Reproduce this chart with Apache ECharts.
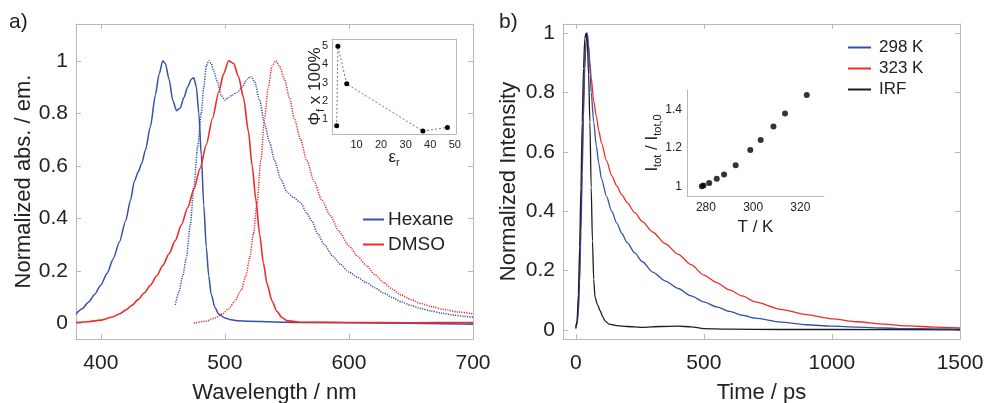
<!DOCTYPE html>
<html><head><meta charset="utf-8">
<script src="https://cdn.jsdelivr.net/npm/echarts@6/dist/echarts.min.js"></script>
<style>html,body{margin:0;padding:0;background:#fff}#c{width:985px;height:403px}</style>
</head><body><div id="c"></div>
<script>
// ---------- Panel a: spectra (wavelength nm, normalized) ----------
const hexaneAbs = [[380,0.035],[385,0.055],[390,0.08],[395,0.11],[400,0.145],[405,0.19],[410,0.245],[415,0.31],[420,0.39],[424,0.47],[427,0.54],[430,0.575],[433,0.61],[436,0.66],[440,0.75],[444,0.87],[447,0.95],[450,1.0],[452,0.99],[455,0.93],[458,0.85],[461,0.81],[464,0.82],[467,0.86],[470,0.9],[473,0.93],[475,0.935],[477,0.9],[479,0.8],[481,0.64],[483,0.45],[485,0.29],[487,0.18],[489,0.11],[492,0.06],[495,0.035],[500,0.02],[505,0.013],[510,0.01],[520,0.008],[540,0.005],[560,0.003],[600,0.002],[650,0.0],[700,-0.004]];
const hexaneEm = [[460,0.07],[463,0.12],[466,0.18],[469,0.25],[472,0.37],[475,0.52],[478,0.67],[481,0.8],[483,0.9],[485,0.98],[487,1.0],[489,0.99],[491,0.96],[494,0.92],[497,0.87],[500,0.85],[503,0.86],[506,0.87],[510,0.88],[514,0.9],[518,0.93],[521,0.94],[524,0.92],[528,0.85],[532,0.76],[536,0.69],[540,0.62],[545,0.55],[550,0.5],[555,0.48],[561,0.46],[566,0.42],[570,0.39],[575,0.34],[580,0.3],[587,0.255],[593,0.225],[600,0.195],[607,0.175],[614,0.155],[621,0.135],[628,0.115],[635,0.098],[642,0.082],[650,0.068],[658,0.056],[666,0.047],[675,0.038],[685,0.031],[693,0.026],[700,0.023]];
const dmsoAbs = [[380,0.003],[390,0.006],[400,0.012],[410,0.025],[415,0.035],[420,0.05],[425,0.068],[430,0.09],[435,0.115],[440,0.145],[445,0.18],[450,0.22],[455,0.265],[460,0.315],[465,0.375],[470,0.44],[475,0.51],[480,0.59],[485,0.68],[490,0.78],[495,0.88],[499,0.95],[503,1.0],[507,0.99],[511,0.94],[515,0.86],[519,0.73],[522,0.6],[525,0.47],[528,0.34],[531,0.23],[534,0.15],[538,0.085],[542,0.045],[546,0.022],[550,0.01],[560,0.004],[600,0.003],[650,0.002],[700,0.003]];
const dmsoEm = [[475,0.0],[485,0.008],[492,0.02],[498,0.035],[503,0.055],[508,0.085],[513,0.125],[517,0.18],[520,0.25],[523,0.34],[526,0.46],[529,0.62],[532,0.78],[535,0.9],[538,0.98],[541,1.0],[544,0.98],[548,0.93],[552,0.86],[556,0.78],[561,0.7],[566,0.62],[572,0.54],[578,0.47],[585,0.41],[592,0.35],[600,0.295],[607,0.255],[614,0.22],[621,0.185],[628,0.155],[635,0.13],[642,0.108],[650,0.09],[658,0.075],[667,0.063],[676,0.053],[688,0.043],[700,0.036]];
const waveTicks = [400,500,600,700];
const normTicks = [0,0.2,0.4,0.6,0.8,1];

// ---------- Inset a: quantum yield vs dielectric constant ----------
const epsR = [1.9,2.4,6.0,37.0,47.0];
const phiF = [0.62,5.0,2.93,0.33,0.53];
const epsTicks = [10,20,30,40,50];
const phiTicks = [1,2,3,4,5];

// ---------- Panel b: decays (time ps, normalized) ----------
const decay298 = [[0,0.01],[5,0.02],[10,0.06],[15,0.16],[20,0.33],[25,0.52],[30,0.72],[35,0.88],[40,0.97],[45,1.0],[50,0.96],[55,0.88],[60,0.8],[70,0.7],[80,0.62],[90,0.56],[100,0.51],[120,0.45],[140,0.4],[160,0.36],[180,0.325],[200,0.295],[230,0.26],[260,0.23],[300,0.195],[350,0.165],[400,0.14],[450,0.115],[500,0.095],[550,0.078],[600,0.063],[650,0.05],[700,0.04],[800,0.027],[900,0.018],[1000,0.013],[1100,0.01],[1200,0.007],[1300,0.005],[1400,0.004],[1500,0.003]];
const decay323 = [[0,0.01],[5,0.03],[10,0.08],[15,0.2],[20,0.38],[25,0.58],[30,0.77],[35,0.9],[40,0.97],[45,0.98],[50,0.95],[55,0.9],[60,0.85],[70,0.77],[80,0.72],[90,0.67],[100,0.63],[120,0.57],[140,0.52],[160,0.485],[180,0.455],[200,0.43],[230,0.395],[260,0.365],[300,0.33],[350,0.29],[400,0.255],[450,0.22],[500,0.185],[550,0.16],[600,0.135],[650,0.115],[700,0.095],[800,0.07],[900,0.052],[1000,0.038],[1100,0.028],[1200,0.02],[1300,0.014],[1400,0.01],[1500,0.007]];
const decayIRF = [[0,0.005],[5,0.03],[10,0.12],[15,0.28],[20,0.48],[25,0.7],[30,0.88],[35,0.98],[40,1.0],[45,0.97],[50,0.86],[55,0.7],[60,0.48],[65,0.3],[70,0.17],[75,0.11],[85,0.085],[95,0.065],[105,0.045],[115,0.03],[130,0.02],[160,0.015],[200,0.012],[260,0.009],[330,0.012],[400,0.013],[450,0.011],[500,0.005],[600,0.003],[800,0.002],[1000,0.002],[1500,0.001]];
const timeTicks = [0,500,1000,1500];

// ---------- Inset b: total intensity vs temperature ----------
const tempK = [278.3,279.0,281.4,284.6,287.7,292.6,298.8,303.2,308.6,313.5,322.7];
const intRatio = [1.0,1.005,1.017,1.04,1.062,1.109,1.189,1.241,1.31,1.378,1.474];
const tempTicks = [280,300,320];
const ratioTicks = [1,1.2,1.4];

const F = '"Liberation Sans", Arial, sans-serif';
const TXT = '#222';
const AX = '#b8b8b8';
const BLUE = '#3550a8';
const RED = '#ee2b2b';
const BLACK = '#1e1e1e';

function axis(dim, o) {
  const ticks = o.ticks;
  const base = {
    type: 'value', gridIndex: o.grid, min: o.min, max: o.max, position: o.pos,
    scale: true,
    axisLine: {show: true, onZero: false, lineStyle: {color: AX, width: 1}},
    axisTick: {show: !!o.tick, inside: true, length: 5, lineStyle: {color: AX}, customValues: ticks},
    axisLabel: o.label ? {show: true, customValues: ticks, color: TXT, fontSize: o.fs, fontFamily: F, margin: o.margin,
      formatter: v => String(+v.toFixed(3))} : {show: false},
    splitLine: {show: false},
    nameMoveOverlap: false
  };
  if (o.name) {
    base.name = o.name; base.nameLocation = 'middle'; base.nameGap = o.nameGap;
    base.nameTextStyle = Object.assign({color: TXT, fontFamily: F, fontSize: o.nfs}, o.nts || {});
  }
  return base;
}

const subRich = (fs, sfs, pad) => ({
  a: {fontSize: fs, fontFamily: F, color: TXT},
  s: {fontSize: sfs, fontFamily: F, color: TXT, padding: [pad, 0, 0, 0]}
});

const xAxes = [
  axis('x', {grid:0, min:380, max:700, pos:'bottom', ticks:waveTicks, tick:true, label:true, fs:21, margin:14, name:'Wavelength / nm', nameGap:43, nfs:22}),
  axis('x', {grid:0, min:380, max:700, pos:'top', ticks:waveTicks, tick:true}),
  axis('x', {grid:1, min:0, max:50.5, pos:'bottom', ticks:epsTicks, label:true, fs:11, margin:5, name:'{a|ε}{s|r}', nameGap:13, nfs:17, nts:{rich: subRich(17, 11, 10)}}),
  axis('x', {grid:1, min:0, max:50.5, pos:'top', ticks:epsTicks}),
  axis('x', {grid:2, min:-50, max:1500, pos:'bottom', ticks:timeTicks, tick:true, label:true, fs:21, margin:14, name:'Time / ps', nameGap:43, nfs:22}),
  axis('x', {grid:2, min:-50, max:1500, pos:'top', ticks:timeTicks, tick:true}),
  axis('x', {grid:3, min:272, max:330, pos:'bottom', ticks:tempTicks, label:true, fs:12, margin:6, name:'T / K', nameGap:23, nfs:17})
];
const yAxes = [
  axis('y', {grid:0, min:-0.06, max:1.14, pos:'left', ticks:normTicks, tick:true, label:true, fs:21, margin:8, name:'Normalized abs. / em.', nameGap:41, nfs:22}),
  axis('y', {grid:0, min:-0.06, max:1.14, pos:'right', ticks:normTicks, tick:true}),
  axis('y', {grid:1, min:0.17, max:5.4, pos:'left', ticks:phiTicks, label:true, fs:11, margin:4, name:'{a|Φ}{s|f}{a| x 100%}', nameGap:6, nfs:17, nts:{rich: subRich(17, 11, 10)}}),
  axis('y', {grid:1, min:0.17, max:5.4, pos:'right', ticks:phiTicks}),
  axis('y', {grid:2, min:-0.03, max:1.03, pos:'left', ticks:normTicks, tick:true, label:true, fs:21, margin:8, name:'Normalized Intensity', nameGap:43, nfs:22}),
  axis('y', {grid:2, min:-0.03, max:1.03, pos:'right', ticks:normTicks, tick:true}),
  axis('y', {grid:3, min:0.95, max:1.5, pos:'left', ticks:ratioTicks, label:true, fs:12, margin:5, name:'{a|I}{s|tot}{a| / I}{s|tot,0}', nameGap:24, nfs:17, nts:{rich: subRich(17, 11, 10)}})
];

function line(name, data, xi, color, width, type) {
  return {type:'line', name, data, xAxisIndex:xi, yAxisIndex:xi, showSymbol:false, smooth:0.25, smoothMonotone:'x',
    lineStyle:{color, width, type: type || 'solid'}, itemStyle:{color}, emphasis:{disabled:true}, silent:true, animation:false, clip:true};
}

const G = {containLabel:false, outerBoundsMode:'none'};
const option = {
  backgroundColor: '#fff',
  animation: false,
  grid: [
    Object.assign({left:76, top:24, width:397, height:315}, G),
    Object.assign({left:332, top:39, width:124, height:95}, G),
    Object.assign({left:563, top:24, width:397, height:315}, G),
    Object.assign({left:687, top:90, width:137, height:106}, G)
  ],
  xAxis: xAxes,
  yAxis: yAxes,
  legend: [
    {data:['Hexane','DMSO'], left:358, top:205, orient:'vertical', icon:'rect', itemWidth:21, itemHeight:2, itemGap:6, selectedMode:false,
      textStyle:{fontSize:19, color:TXT, fontFamily:F, padding:[0,0,0,-1]}},
    {data:['298 K','323 K','IRF'], left:843, top:34, orient:'vertical', icon:'rect', itemWidth:23, itemHeight:2, itemGap:4, selectedMode:false,
      textStyle:{fontSize:17, color:TXT, fontFamily:F, padding:[0,0,0,3]}}
  ],
  graphic: [
    {type:'text', left:9, top:12, style:{text:'a)', font:'21px "Liberation Sans", Arial, sans-serif', fill:TXT}},
    {type:'text', left:499, top:12, style:{text:'b)', font:'21px "Liberation Sans", Arial, sans-serif', fill:TXT}}
  ],
  series: [
    line('Hexane', hexaneAbs, 0, BLUE, 1.5),
    line('Hexane em', hexaneEm, 0, BLUE, 1.5, [1.2,1.2]),
    line('DMSO', dmsoAbs, 0, RED, 1.6),
    line('DMSO em', dmsoEm, 0, RED, 1.5, [1.2,1.2]),
    {type:'line', name:'phi', data: epsR.map((e,i)=>[e, phiF[i]]), xAxisIndex:2, yAxisIndex:2, showSymbol:true, symbol:'circle', symbolSize:5,
      itemStyle:{color:'#000'}, lineStyle:{color:'#777', width:1, type:[2,2]}, silent:true, animation:false},
    line('323 K', decay323, 4, RED, 1.3),
    line('298 K', decay298, 4, BLUE, 1.3),
    line('IRF', decayIRF, 4, BLACK, 1.3),
    {type:'scatter', name:'ratio', data: tempK.map((t,i)=>[t, intRatio[i]]), xAxisIndex:6, yAxisIndex:6, symbol:'circle', symbolSize:6,
      itemStyle:{color:'#000'}, silent:true, animation:false}
  ]
};
const chart = echarts.init(document.getElementById('c'), null, {renderer:'canvas'});
chart.setOption(option);
</script></body></html>
